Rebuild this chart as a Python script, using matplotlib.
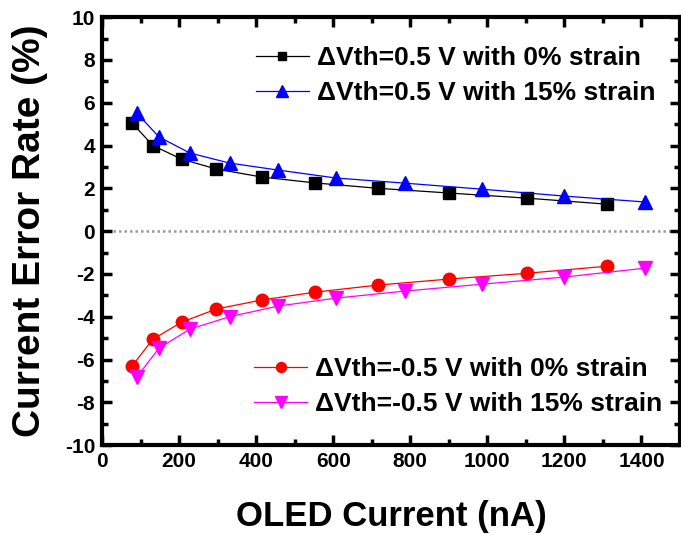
import matplotlib
matplotlib.use("Agg")
import matplotlib.pyplot as plt
from matplotlib.ticker import MultipleLocator

plt.rcParams['font.family'] = ['Liberation Sans', 'DejaVu Sans']
plt.rcParams['axes.unicode_minus'] = False

# data
x_0 = [78, 132, 207, 297, 414, 554, 717, 901, 1103, 1310]
x_15 = [91, 148, 228, 331, 458, 608, 787, 986, 1198, 1410]
pos_0 = [5.05, 4.0, 3.36, 2.9, 2.53, 2.25, 2.0, 1.78, 1.54, 1.26]
pos_15 = [5.5, 4.4, 3.65, 3.18, 2.85, 2.48, 2.24, 1.96, 1.64, 1.36]
neg_0 = [-6.3, -5.05, -4.25, -3.64, -3.22, -2.85, -2.52, -2.24, -1.97, -1.64]
neg_15 = [-6.8, -5.47, -4.58, -4.0, -3.5, -3.13, -2.8, -2.48, -2.15, -1.73]

labels = ["\u0394Vth=0.5 V with 0% strain", "\u0394Vth=0.5 V with 15% strain",
          "\u0394Vth=-0.5 V with 0% strain", "\u0394Vth=-0.5 V with 15% strain"]

fig = plt.figure(figsize=(6.81, 5.35), dpi=100)
ax = fig.add_axes([0.1498, 0.168, 0.8487, 0.800])

ax.axhline(0, color='#999999', lw=1.8, ls=(0, (1, 1.2)), zorder=1)

l1, = ax.plot(x_0, pos_0, color='black', lw=0.9, marker='s', ms=8, label=labels[0])
l2, = ax.plot(x_15, pos_15, color='blue', lw=0.9, marker='^', ms=10, label=labels[1])
l3, = ax.plot(x_0, neg_0, color='red', lw=0.9, marker='o', ms=9, label=labels[2])
l4, = ax.plot(x_15, neg_15, color='magenta', lw=0.9, marker='v', ms=10, label=labels[3])

ax.set_xlim(0, 1500)
ax.set_ylim(-10, 10)
ax.xaxis.set_major_locator(MultipleLocator(200))
ax.xaxis.set_minor_locator(MultipleLocator(100))
ax.yaxis.set_major_locator(MultipleLocator(2))
ax.yaxis.set_minor_locator(MultipleLocator(1))
ax.tick_params(which='both', direction='in', top=True, right=True, width=2.5)
ax.tick_params(which='major', length=7, labelsize=15, pad=5)
ax.tick_params(which='minor', length=4)
for s in ax.spines.values():
    s.set_linewidth(3)
ax.set_xticks([0, 200, 400, 600, 800, 1000, 1200, 1400])
for t in ax.get_xticklabels() + ax.get_yticklabels():
    t.set_fontweight('bold')

ax.set_xlabel("OLED Current (nA)", fontsize=25, fontweight='bold', labelpad=21)
ax.set_ylabel("Current Error Rate (%)", fontsize=28, fontweight='bold')
ax.yaxis.set_label_coords(-0.094, 0.5)

leg_kw = dict(frameon=False, prop={'size': 19, 'weight': 'bold'}, markerscale=0.8,
              handlelength=2.0, labelspacing=0.4, borderpad=0, borderaxespad=0,
              handletextpad=0.3)
leg1 = ax.legend(handles=[l1, l2], loc='upper right', bbox_to_anchor=(0.957, 0.932), **leg_kw)
ax.add_artist(leg1)
ax.legend(handles=[l3, l4], loc='lower right', bbox_to_anchor=(0.969, 0.068), **leg_kw)

fig.savefig("out.png", dpi=100)
